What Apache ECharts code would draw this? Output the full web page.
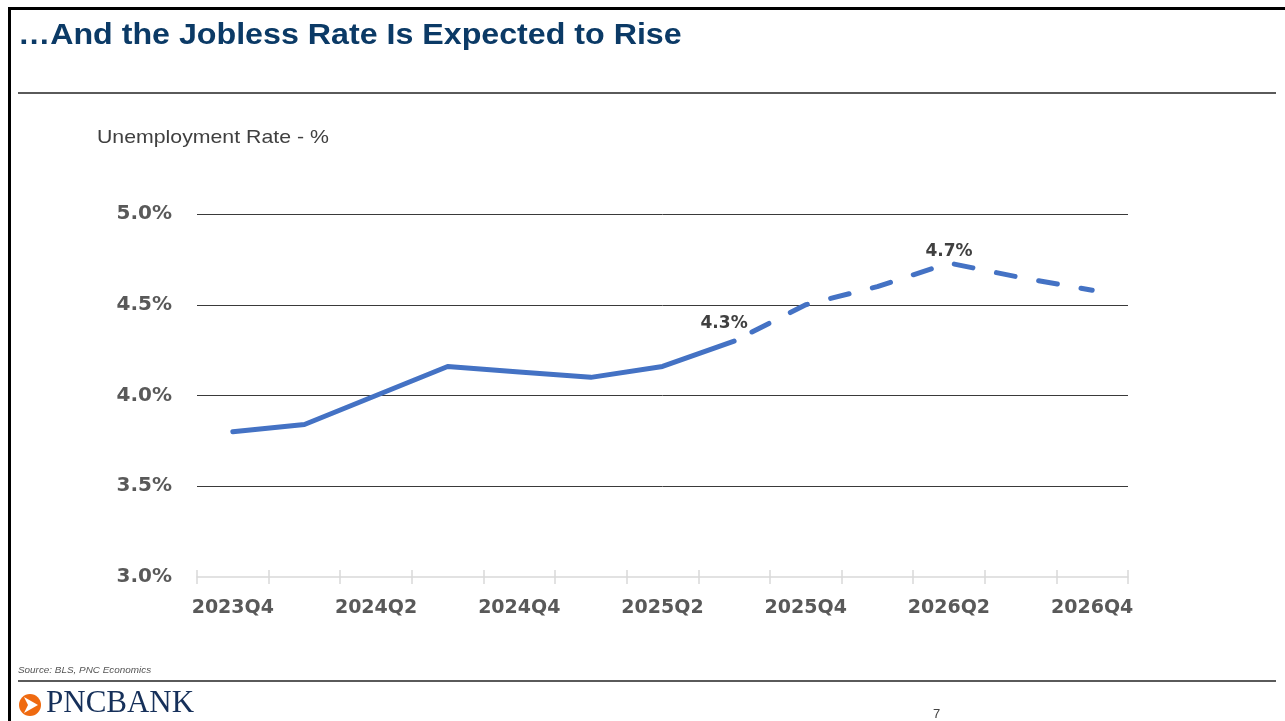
<!DOCTYPE html>
<html>
<head>
<meta charset="utf-8">
<style type="text/css">
html, body {margin: 0; padding: 0; background: #fff}
#chart {width: 1285px; height: 721px}
</style>
<script src="https://cdn.jsdelivr.net/npm/echarts@6/dist/echarts.min.js"></script>
</head>
<body>
<div id="chart"></div>
<script type="text/javascript">
// quarters on the x axis
var quarters = ['2023Q4', '2024Q1', '2024Q2', '2024Q3', '2024Q4', '2025Q1', '2025Q2',
    '2025Q3', '2025Q4', '2026Q1', '2026Q2', '2026Q3', '2026Q4'];
// actual rate (solid), 2023Q4 - 2025Q3
var actual = [3.8, 3.84, 4.0, 4.16, 4.13, 4.1, 4.16, 4.3];
// forecast (dashed), starts at 2025Q3
var forecastStart = 7;
var forecast = [4.3, 4.5, 4.6, 4.73, 4.65, 4.58];
// y axis ticks
var yMin = 3.0, yMax = 5.0, yStep = 0.5;
// which points carry a value label
var actualLabelIdx = [7];
var forecastLabelIdx = [10];

var myChart = echarts.init(document.getElementById('chart'));

function pct(v) { return Number(v).toFixed(1) + '%'; }

var actualData = quarters.map(function (q, i) {
    if (i >= actual.length) return '-';
    var item = {value: actual[i]};
    if (actualLabelIdx.indexOf(i) >= 0) item.label = {show: true};
    return item;
});
var forecastData = quarters.map(function (q, i) {
    var k = i - forecastStart;
    if (k < 0 || k >= forecast.length) return '-';
    var item = {value: forecast[k]};
    if (forecastLabelIdx.indexOf(i) >= 0) item.label = {show: true};
    return item;
});

var labelStyle = {
    show: false,
    position: 'top',
    fontFamily: 'DejaVu Sans',
    fontWeight: 'bold',
    fontSize: 17,
    color: '#404040',
    formatter: function (p) { return pct(p.value); }
};

var option = {
    backgroundColor: '#fff',
    animation: false,
    grid: {
        left: 197,
        right: 157,
        top: 214,
        bottom: 144,
        containLabel: false
    },
    xAxis: [
        {
            type: 'category',
            data: quarters,
            position: 'bottom',
            boundaryGap: true,
            axisLine: {lineStyle: {color: '#d9d9d9', width: 1.5}},
            axisTick: {show: true, interval: 0, length: 7, lineStyle: {color: '#d9d9d9', width: 1.5}},
            axisLabel: {
                interval: 1,
                margin: 22,
                fontFamily: 'DejaVu Sans',
                fontWeight: 'bold',
                fontSize: 19,
                color: '#595959'
            },
            splitLine: {show: false}
        },
        {
            type: 'category',
            data: quarters,
            position: 'bottom',
            boundaryGap: true,
            axisLine: {show: false},
            axisTick: {show: true, inside: true, interval: 0, length: 7, lineStyle: {color: '#d9d9d9', width: 1.5}},
            axisLabel: {show: false},
            splitLine: {show: false}
        }
    ],
    yAxis: {
        type: 'value',
        min: yMin,
        max: yMax,
        interval: yStep,
        axisLine: {show: false},
        axisTick: {show: false},
        axisLabel: {
            margin: 25,
            fontFamily: 'DejaVu Sans',
            fontWeight: 'bold',
            fontSize: 20,
            color: '#595959',
            formatter: pct
        },
        splitLine: {
            show: true,
            showMinLine: false,
            lineStyle: {color: '#3a3a3a', width: 1}
        }
    },
    series: [
        {
            name: 'Actual',
            type: 'line',
            data: actualData,
            showSymbol: true,
            symbol: 'circle',
            symbolSize: 0,
            lineStyle: {color: '#4472c4', width: 5, cap: 'round', join: 'round'},
            itemStyle: {color: '#4472c4'},
            label: Object.assign({}, labelStyle, {offset: [-10, -4]}),
            z: 3
        },
        {
            name: 'Forecast',
            type: 'line',
            data: forecastData,
            showSymbol: true,
            symbol: 'circle',
            symbolSize: 0,
            lineStyle: {color: '#4472c4', width: 5, type: [19, 24], cap: 'round', join: 'round', dashOffset: -20},
            itemStyle: {color: '#4472c4'},
            label: Object.assign({}, labelStyle, {offset: [0, 2]}),
            z: 2
        }
    ],
    graphic: [
        // slide frame
        {type: 'rect', shape: {x: 8, y: 7, width: 1285, height: 3}, style: {fill: '#000'}},
        {type: 'rect', shape: {x: 8, y: 7, width: 3, height: 721}, style: {fill: '#000'}},
        // title
        {
            type: 'text', x: 18, y: 21, scaleX: 1.11,
            style: {
                text: '\u2026And the Jobless Rate Is Expected to Rise',
                font: 'bold 29px "Liberation Sans", Arial, sans-serif',
                fill: '#0b3a66'
            }
        },
        {type: 'line', shape: {x1: 18, y1: 93, x2: 1276, y2: 93}, style: {stroke: '#5a5a5a', lineWidth: 2}},
        {
            type: 'text', x: 97, y: 128, scaleX: 1.12,
            style: {
                text: 'Unemployment Rate - %',
                font: '19px "Liberation Sans", Arial, sans-serif',
                fill: '#404040'
            }
        },
        // footer
        {
            type: 'text', x: 18, y: 666, scaleX: 1.1,
            style: {
                text: 'Source: BLS, PNC Economics',
                font: 'italic 9px "Liberation Sans", Arial, sans-serif',
                fill: '#555'
            }
        },
        {type: 'line', shape: {x1: 18, y1: 681, x2: 1276, y2: 681}, style: {stroke: '#5a5a5a', lineWidth: 2}},
        {type: 'circle', shape: {cx: 30, cy: 705, r: 11}, style: {fill: '#ef6a10'}},
        {type: 'polygon', shape: {points: [[24, 697], [38, 705], [24, 713], [28, 705]]}, style: {fill: '#fff'}},
        {
            type: 'text', x: 46, y: 688,
            style: {
                text: 'PNCBANK',
                font: '31px "Liberation Serif", "Times New Roman", serif',
                fill: '#16305a'
            }
        },
        {
            type: 'text', x: 933, y: 708,
            style: {
                text: '7',
                font: '13px "Liberation Sans", Arial, sans-serif',
                fill: '#444'
            }
        }
    ]
};

if (option && typeof option === 'object') {
    myChart.setOption(option, true);
}
</script>
</body>
</html>
